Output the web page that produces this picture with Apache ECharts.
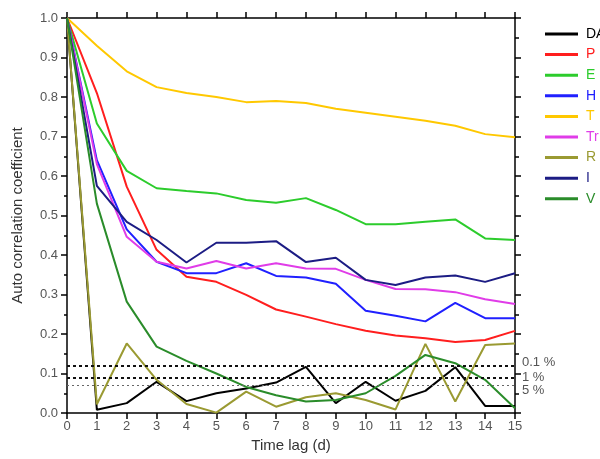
<!DOCTYPE html>
<html><head><meta charset="utf-8">
<script src="https://cdn.jsdelivr.net/npm/echarts@6/dist/echarts.min.js"></script>
<style>html,body{margin:0;padding:0;background:#fff}#c{width:600px;height:459px}</style>
</head><body><div id="c"></div>
<script>
const lags = [0,1,2,3,4,5,6,7,8,9,10,11,12,13,14,15];
const seriesNames = ['DA','P','E','H','T','Tr','R','I','V'];
const DA = [1.0,0.008,0.025,0.079,0.03,0.05,0.062,0.077,0.117,0.025,0.079,0.031,0.056,0.116,0.018,0.018];
const P  = [1.0,0.81,0.573,0.413,0.345,0.332,0.299,0.262,0.244,0.225,0.208,0.196,0.189,0.18,0.185,0.208];
const E  = [1.0,0.733,0.613,0.569,0.562,0.556,0.539,0.532,0.544,0.514,0.478,0.478,0.484,0.49,0.442,0.438];
const H  = [1.0,0.64,0.465,0.383,0.354,0.354,0.379,0.347,0.343,0.327,0.259,0.246,0.232,0.279,0.24,0.24];
const T  = [1.0,0.93,0.865,0.825,0.81,0.80,0.787,0.79,0.785,0.77,0.76,0.75,0.74,0.727,0.706,0.698];
const Tr = [1.0,0.63,0.446,0.383,0.366,0.385,0.366,0.379,0.366,0.365,0.337,0.314,0.313,0.306,0.288,0.276];
const R  = [1.0,0.022,0.176,0.084,0.023,0.001,0.054,0.016,0.04,0.05,0.033,0.009,0.175,0.029,0.172,0.176];
const I  = [1.0,0.575,0.484,0.438,0.381,0.431,0.431,0.435,0.382,0.393,0.337,0.324,0.343,0.348,0.332,0.354];
const V  = [1.0,0.53,0.282,0.168,0.132,0.10,0.066,0.045,0.029,0.033,0.05,0.094,0.147,0.126,0.084,0.012];
const sigLevels = [0.12, 0.094, 0.07];
const sigLabels = ['0.1 %', '1 %', '5 %'];

const colors = ['#000000','#ff1e1e','#2ccc2c','#2020ff','#ffc800','#e03ce8','#9a9a32','#1c1c84','#2a8c2a'];
const values = [DA,P,E,H,T,Tr,R,I,V];

const chart = echarts.init(document.getElementById('c'));
const font = 'Liberation Sans, Arial, sans-serif';
const series = seriesNames.map((n,k)=>({
  name:n, type:'line', xAxisIndex:0, yAxisIndex:0,
  data: lags.map((x,i)=>[x, values[k][i]]),
  showSymbol:false, symbol:'none', lineStyle:{color:colors[k], width:2}, itemStyle:{color:colors[k]},
  z: 3
}));
const sigStyles = [
  {type:[3,3], width:2, color:'#111'},
  {type:[3,3], width:2, color:'#111'},
  {type:[2,3], width:1, color:'#666'}
];
const sigOffsets = [-3, 0, 5];
series.push({
  name:'sig', type:'line', data:[], silent:true,
  markLine:{
    symbol:'none', silent:true, animation:false,
    data: sigLevels.map((v,i)=>({
      yAxis:v,
      lineStyle:sigStyles[i],
      label:{show:true, position:'end', formatter:sigLabels[i], color:'#555', fontSize:13, fontFamily:font, distance:7, offset:[0, sigOffsets[i]]}
    }))
  },
  z:2
});

chart.setOption({
  animation:false,
  textStyle:{fontFamily:font},
  grid:{left:67, right:85, top:18, bottom:46},
  legend:{
    orient:'vertical', left:540, top:22, itemWidth:33, itemHeight:3, itemGap:6.6,
    icon:'rect',
    textStyle:{fontSize:14, fontFamily:font, lineHeight:14, padding:[0,0,0,3]},
    data: seriesNames.map((n,k)=>({name:n, itemStyle:{color:colors[k]}, textStyle:{color:colors[k]}}))
  },
  xAxis:[{
    type:'value', min:0, max:15, interval:1, position:'bottom',
    name:'Time lag (d)', nameLocation:'middle', nameGap:20,
    nameTextStyle:{fontSize:15, color:'#333', fontFamily:font},
    axisLine:{onZero:false, lineStyle:{color:'#000', width:1.5}},
    axisTick:{show:true, inside:false, length:6, lineStyle:{color:'#000', width:1.5}},
    axisLabel:{color:'#555', fontSize:13, margin:7, fontFamily:font},
    splitLine:{show:false}
  },{
    type:'value', min:0, max:15, interval:1, position:'top',
    axisLine:{onZero:false, lineStyle:{color:'#000', width:1.5}},
    axisTick:{show:true, inside:false, length:6, lineStyle:{color:'#000', width:1.5}},
    axisLabel:{show:false}, splitLine:{show:false}
  }],
  yAxis:[{
    type:'value', min:0, max:1, interval:0.1, position:'left',
    name:'Auto correlation coefficient', nameLocation:'middle', nameGap:42, nameRotate:90,
    nameTextStyle:{fontSize:15, color:'#333', fontFamily:font},
    axisLine:{show:true, onZero:false, lineStyle:{color:'#000', width:1.5}},
    axisTick:{show:true, inside:false, length:6, lineStyle:{color:'#000', width:1.5}},
    minorTick:{show:true, splitNumber:2, length:3, lineStyle:{color:'#000', width:1.5}},
    axisLabel:{color:'#555', fontSize:13, margin:9, fontFamily:font, formatter:v=>v.toFixed(1)},
    splitLine:{show:false}
  },{
    type:'value', min:0, max:1, interval:0.1, position:'right',
    axisLine:{show:true, onZero:false, lineStyle:{color:'#000', width:1.5}},
    axisTick:{show:true, inside:false, length:6, lineStyle:{color:'#000', width:1.5}},
    minorTick:{show:true, splitNumber:2, length:4, lineStyle:{color:'#000', width:1.5}},
    axisLabel:{show:false}, splitLine:{show:false}
  }],
  series: series
});
</script></body></html>
